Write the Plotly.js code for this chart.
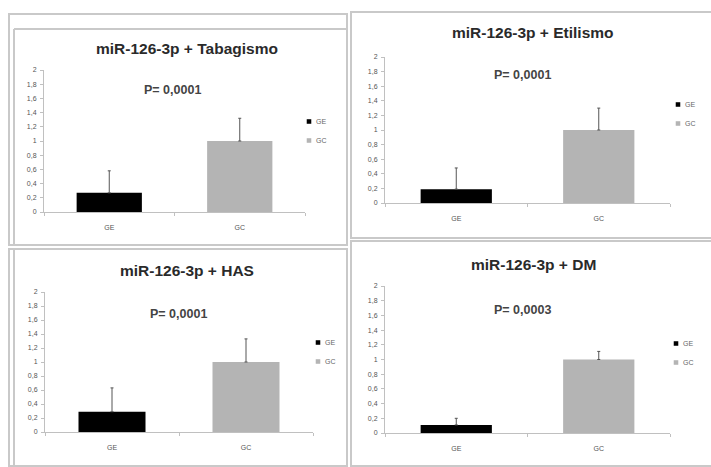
<!DOCTYPE html>
<html>
<head>
<meta charset="utf-8">
<script src="https://cdn.plot.ly/plotly-3.0.1.min.js"></script>
<style>
  html, body { margin: 0; padding: 0; background: #ffffff; }
  #chart { width: 711px; height: 467px; }
  .legendpoints path {
    transform-box: fill-box;
    transform-origin: center;
    transform: translate(33px, 0) scale(0.38);
  }
</style>
</head>
<body>
<div id="chart"></div>
<script>
// ---- data ----
const categories = ['GE', 'GC'];
const panelTitles = ['miR-126-3p + Tabagismo', 'miR-126-3p + Etilismo', 'miR-126-3p + HAS', 'miR-126-3p + DM'];
const pValueLabels = ['P= 0,0001', 'P= 0,0001', 'P= 0,0001', 'P= 0,0003'];
const geMeans  = [0.27, 0.19, 0.29, 0.11];
const geErrors = [0.31, 0.29, 0.34, 0.09];
const gcMeans  = [1.00, 1.00, 1.00, 1.00];
const gcErrors = [0.32, 0.30, 0.33, 0.11];
const yTickVals = [0, 0.2, 0.4, 0.6, 0.8, 1, 1.2, 1.4, 1.6, 1.8, 2];
const yTickText = ['0', '0,2', '0,4', '0,6', '0,8', '1', '1,2', '1,4', '1,6', '1,8', '2'];

// ---- layout geometry (pixels in a 711 x 467 page) ----
const W = 711, H = 467;
const px = x => x / W;
const py = y => 1 - y / H;
const panels = [
  { plotX: [44, 305], y0: 212, y2: 70,  titleX: 187, titleY: 48,  pX: 172, pY: 90,  legX: 276, legY: 107, frame: [9, 14, 347, 245], inner: [14, 29] },
  { plotX: [385, 670], y0: 203, y2: 57, titleX: 533, titleY: 33,  pX: 522, pY: 75,  legX: 645, legY: 90,  frame: [351, 12, 713, 238], inner: null },
  { plotX: [45, 313], y0: 432, y2: 292, titleX: 187, titleY: 270, pX: 178, pY: 314, legX: 285, legY: 328, frame: [9, 249, 347, 466], inner: [14, null] },
  { plotX: [385, 670], y0: 433, y2: 286, titleX: 533, titleY: 264, pX: 522, pY: 310, legX: 643, legY: 329, frame: [351, 241, 713, 466], inner: null }
];

const FONT = 'Liberation Sans, Arial, sans-serif';
const traces = [];
const layout = {
  width: W, height: H,
  margin: { l: 0, r: 0, t: 0, b: 0, autoexpand: false },
  paper_bgcolor: '#ffffff',
  plot_bgcolor: 'rgba(0,0,0,0)',
  barmode: 'overlay',
  separators: ',.',
  font: { family: FONT, color: '#444' },
  annotations: [],
  shapes: []
};

const frameColor = '#c9c9c9';

panels.forEach((p, i) => {
  const n = i + 1;
  const xa = n === 1 ? 'x' : 'x' + n;
  const ya = n === 1 ? 'y' : 'y' + n;
  const legName = n === 1 ? 'legend' : 'legend' + n;

  traces.push({
    type: 'bar', x: [categories[0]], y: [geMeans[i]], name: categories[0],
    xaxis: xa, yaxis: ya, legend: legName, width: 0.5,
    marker: { color: '#000000' },
    error_y: { type: 'data', symmetric: false, array: [geErrors[i]], arrayminus: [0], color: '#555', thickness: 1, width: 1.5 },
    hoverinfo: 'skip'
  });
  traces.push({
    type: 'bar', x: [categories[1]], y: [gcMeans[i]], name: categories[1],
    xaxis: xa, yaxis: ya, legend: legName, width: 0.5,
    marker: { color: '#b4b4b4' },
    error_y: { type: 'data', symmetric: false, array: [gcErrors[i]], arrayminus: [0], color: '#555', thickness: 1, width: 1.5 },
    hoverinfo: 'skip'
  });

  const xKey = n === 1 ? 'xaxis' : 'xaxis' + n;
  const yKey = n === 1 ? 'yaxis' : 'yaxis' + n;
  layout[xKey] = {
    domain: [px(p.plotX[0]), px(p.plotX[1])],
    anchor: ya,
    type: 'category',
    categoryorder: 'array', categoryarray: categories,
    range: [-0.5, 1.5],
    showline: true, linecolor: '#c0c0c0', linewidth: 1,
    ticks: 'outside', tickson: 'boundaries', ticklen: 3, tickcolor: '#c0c0c0',
    tickfont: { size: 7, color: '#555', family: FONT },
    ticklabelstandoff: 9,
    showgrid: false, zeroline: false, fixedrange: true, automargin: false
  };
  layout[yKey] = {
    domain: [py(p.y0), py(p.y2)],
    anchor: xa,
    range: [0, 2],
    tickvals: yTickVals, ticktext: yTickText,
    showline: true, linecolor: '#c0c0c0', linewidth: 1,
    ticks: 'outside', ticklen: 3, tickcolor: '#c0c0c0',
    tickfont: { size: 7, color: '#555', family: FONT },
    ticklabelstandoff: 2,
    showgrid: false, zeroline: false, fixedrange: true, automargin: false
  };
  layout[legName] = {
    x: px(p.legX), y: py(p.legY), xanchor: 'left', yanchor: 'top',
    xref: 'paper', yref: 'paper',
    bgcolor: 'rgba(0,0,0,0)', borderwidth: 0,
    font: { size: 7, color: '#666', family: FONT },
    itemwidth: 30, tracegroupgap: 0
  };

  layout.annotations.push({
    xref: 'paper', yref: 'paper', x: px(p.titleX), y: py(p.titleY),
    xanchor: 'center', yanchor: 'middle', showarrow: false,
    text: '<b>' + panelTitles[i] + '</b>',
    font: { size: 15.5, color: '#2a2a2a', family: FONT }
  });
  layout.annotations.push({
    xref: 'paper', yref: 'paper', x: px(p.pX), y: py(p.pY),
    xanchor: 'center', yanchor: 'middle', showarrow: false,
    text: '<b>' + pValueLabels[i] + '</b>',
    font: { size: 12.5, color: '#444', family: FONT }
  });

  const f = p.frame;
  layout.shapes.push({
    type: 'rect', xref: 'paper', yref: 'paper',
    x0: px(f[0]), x1: px(f[2]), y0: py(f[3]), y1: py(f[1]),
    line: { color: frameColor, width: 2 }, fillcolor: 'rgba(0,0,0,0)', layer: 'below'
  });
  if (p.inner) {
    layout.shapes.push({
      type: 'line', xref: 'paper', yref: 'paper',
      x0: px(p.inner[0]), x1: px(p.inner[0]), y0: py(f[3]), y1: py(p.inner[1] || f[1]),
      line: { color: frameColor, width: 2 }, layer: 'below'
    });
    if (p.inner[1]) {
      layout.shapes.push({
        type: 'line', xref: 'paper', yref: 'paper',
        x0: px(p.inner[0]), x1: px(f[2]), y0: py(p.inner[1]), y1: py(p.inner[1]),
        line: { color: frameColor, width: 2 }, layer: 'below'
      });
    }
  }
});

Plotly.newPlot('chart', traces, layout, { displayModeBar: false, staticPlot: true });
</script>
</body>
</html>
